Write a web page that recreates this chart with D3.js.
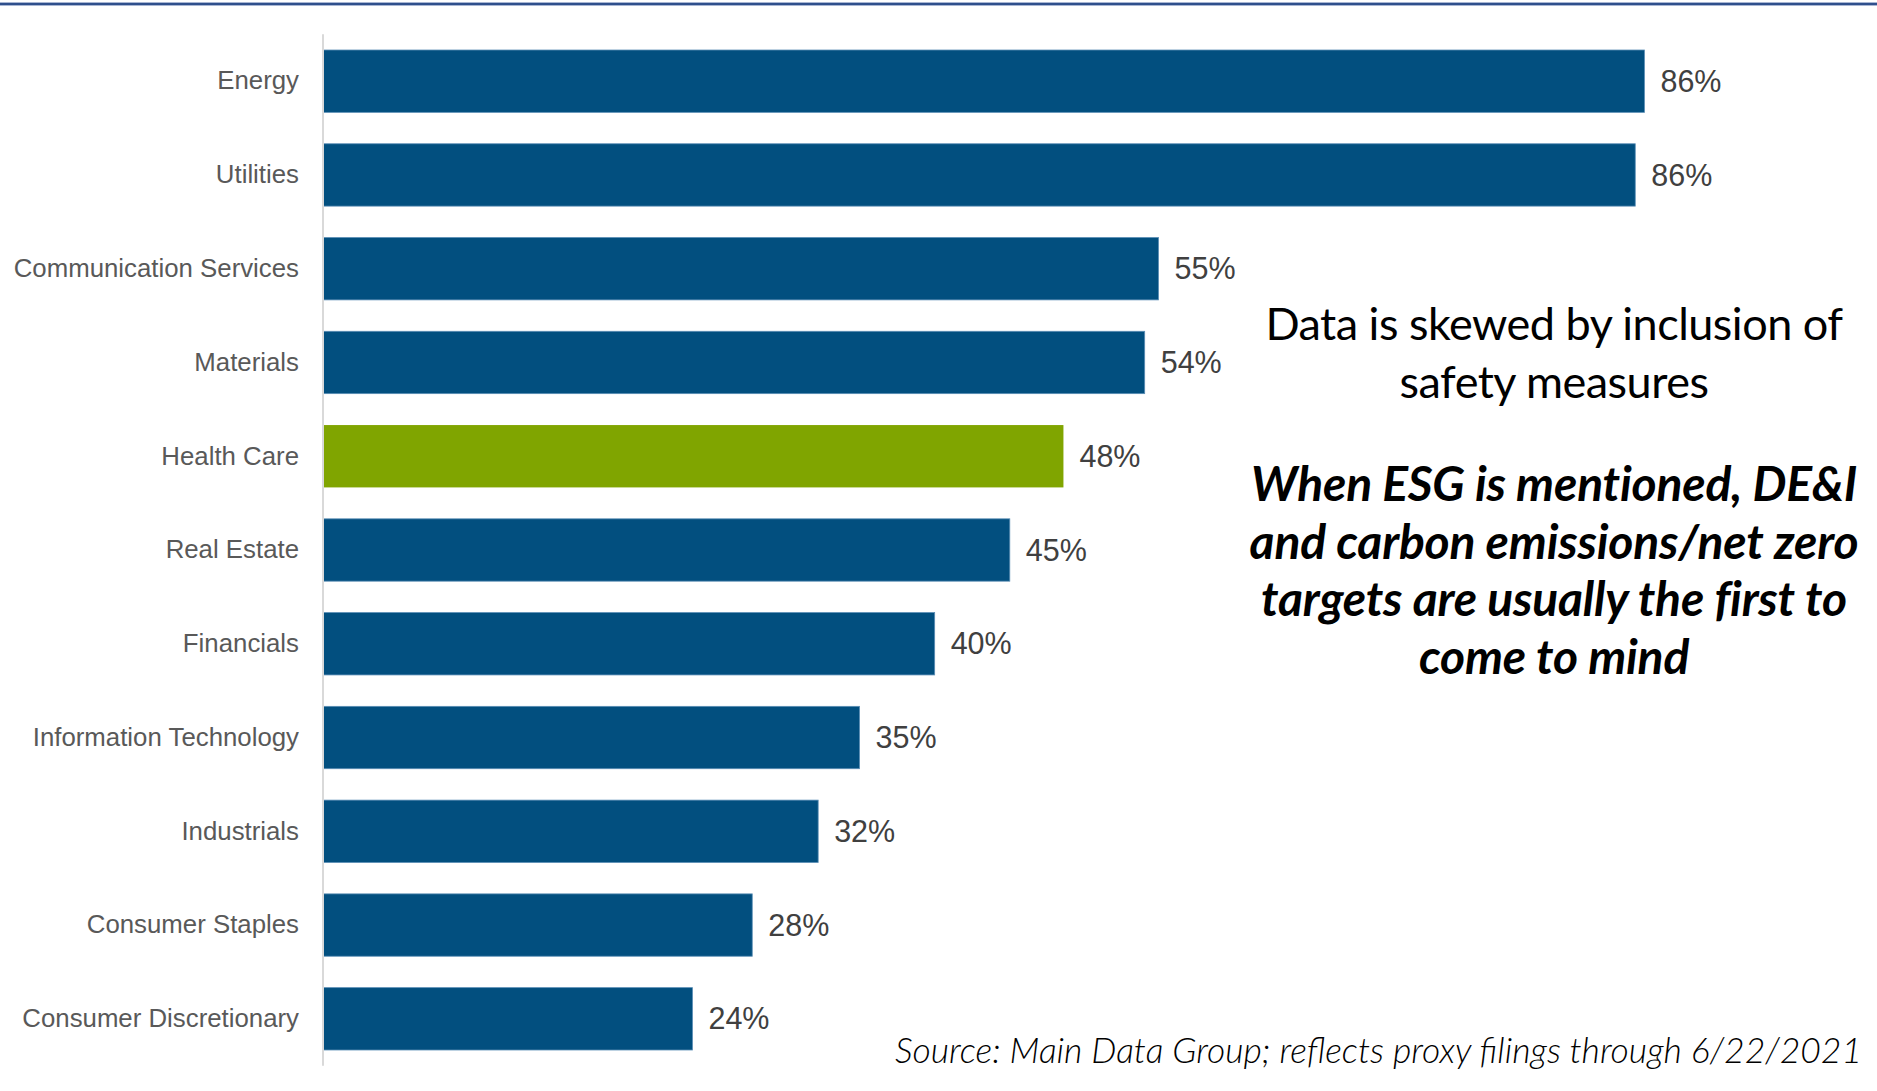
<!DOCTYPE html>
<html>
<head>
<meta charset="utf-8">
<script src="https://cdn.jsdelivr.net/npm/d3@7"></script>
<style>
  html, body { margin: 0; padding: 0; background: #ffffff; }
  svg { display: block; }
</style>
</head>
<body>
<svg id="chart" width="1877" height="1091"></svg>
<script>
// ---- data ----
const categories = ["Energy", "Utilities", "Communication Services", "Materials", "Health Care",
  "Real Estate", "Financials", "Information Technology", "Industrials", "Consumer Staples",
  "Consumer Discretionary"];
const values = [86.2, 85.6, 54.5, 53.6, 48.3, 44.8, 39.9, 35.0, 32.3, 28.0, 24.1];
const valueLabels = ["86%", "86%", "55%", "54%", "48%", "45%", "40%", "35%", "32%", "28%", "24%"];
const highlight = ["Health Care"];
const noteLines = ["Data is skewed by inclusion of", "safety measures"];
const emphasisLines = ["When ESG is mentioned, DE&I", "and carbon emissions/net zero",
  "targets are usually the first to", "come to mind"];
const sourceText = "Source: Main Data Group; reflects proxy filings through 6/22/2021";

// ---- layout ----
const W = 1877, H = 1091;
const svg = d3.select("#chart");

const x = d3.scaleLinear().domain([0, 100]).range([323, 1856]);
const y = d3.scaleBand().domain(categories).range([34.3, 1065.7])
  .paddingInner(0.335).paddingOuter(0.1675);

// top rule
svg.append("line").attr("x1", 0).attr("x2", W).attr("y1", 4).attr("y2", 4)
  .attr("stroke", "#a8b6d3").attr("stroke-width", 4);
svg.append("line").attr("x1", 0).attr("x2", W).attr("y1", 4).attr("y2", 4)
  .attr("stroke", "#2f4f8c").attr("stroke-width", 2);

// bars
const data = categories.map((c, i) => ({ c, v: values[i], label: valueLabels[i] }));

svg.append("g").selectAll("rect").data(data).join("rect")
  .attr("x", x(0))
  .attr("y", d => y(d.c))
  .attr("width", d => x(d.v) - x(0))
  .attr("height", y.bandwidth())
  .attr("fill", d => highlight.includes(d.c) ? "#80a500" : "#024f7f")
  .attr("stroke", d => highlight.includes(d.c) ? "none" : "#5a8db5")
  .attr("stroke-width", 0.8);

// category axis (left)
const yAxis = d3.axisLeft(y).tickSize(0).tickPadding(24);
const gy = svg.append("g").attr("transform", `translate(${x(0)},0)`).call(yAxis);
gy.select(".domain").attr("d", `M0,${y.range()[0]}V${y.range()[1]}`)
  .attr("stroke", "#d9d9d9").attr("stroke-width", 2);
gy.selectAll(".tick text")
  .attr("font-family", "'Liberation Sans', Arial, sans-serif")
  .attr("font-size", 25.8)
  .attr("fill", "#595959");

// value labels
svg.append("g").selectAll("text").data(data).join("text")
  .attr("x", d => x(d.v) + 16)
  .attr("y", d => y(d.c) + y.bandwidth() / 2)
  .attr("dy", "0.35em")
  .attr("font-family", "'Liberation Sans', Arial, sans-serif")
  .attr("font-size", 30.5)
  .attr("fill", "#404040")
  .text(d => d.label);

// annotation text
const cx = 1554;
svg.append("g").selectAll("text").data(noteLines).join("text")
  .attr("x", cx)
  .attr("y", (d, i) => 340 + i * 57.5)
  .attr("text-anchor", "middle")
  .attr("font-family", "Lato, sans-serif")
  .attr("font-size", 45)
  .attr("letter-spacing", "-0.5px")
  .attr("fill", "#000")
  .text(d => d);

svg.append("g").selectAll("text").data(emphasisLines).join("text")
  .attr("x", cx)
  .attr("y", (d, i) => 501 + i * 57.5)
  .attr("text-anchor", "middle")
  .attr("font-family", "Lato, sans-serif")
  .attr("font-size", 48)
  .attr("font-weight", 700)
  .attr("font-style", "italic")
  .attr("letter-spacing", "-0.2px")
  .attr("fill", "#000")
  .text(d => d);

// source
svg.append("text")
  .attr("x", 1862)
  .attr("y", 1063)
  .attr("text-anchor", "end")
  .attr("font-family", "Lato, sans-serif")
  .attr("font-size", 35.5)
  .attr("font-style", "italic")
  .attr("font-weight", 300)
  .attr("fill", "#000")
  .text(sourceText);
</script>
</body>
</html>
